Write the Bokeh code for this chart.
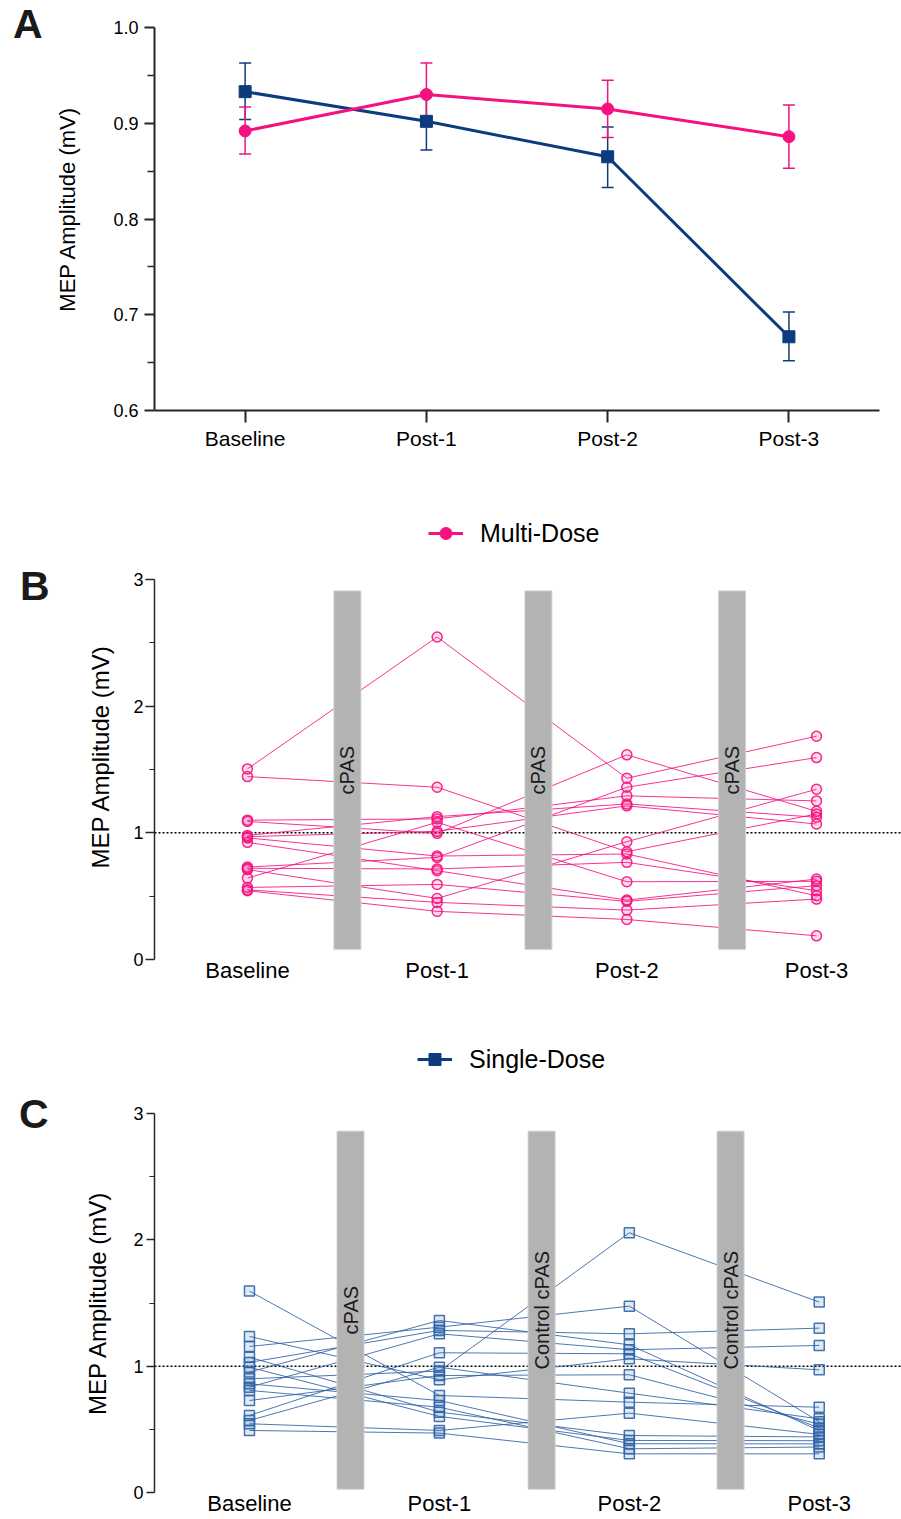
import numpy as np
from bokeh.plotting import figure
from bokeh.models import (ColumnDataSource, FixedTicker, PrintfTickFormatter, Span,
                          Legend, LegendItem, Whisker, TeeHead, LinearAxis,
                          CustomJSTickFormatter)
from bokeh.layouts import column
from bokeh.embed import file_html
from bokeh.resources import INLINE
from bokeh.core.properties import value

# ---------------- data ----------------
timepoints = ["Baseline", "Post-1", "Post-2", "Post-3"]

# Panel A: group means with error bounds (mV)
multi_mean = [0.892, 0.930, 0.915, 0.886]
multi_lower = [0.868, 0.898, 0.885, 0.853]
multi_upper = [0.917, 0.963, 0.945, 0.919]
single_mean = [0.933, 0.902, 0.865, 0.677]
single_lower = [0.904, 0.872, 0.833, 0.652]
single_upper = [0.963, 0.932, 0.896, 0.703]

# Panel B: individual subjects, Multi-Dose (index = subject)
multi_baseline = [1.505, 1.444, 1.100, 1.090, 0.980, 0.970, 0.960, 0.925, 0.730, 0.720, 0.710, 0.643, 0.569, 0.550, 0.543]
multi_post1 = [2.546, 1.360, 1.110, 0.996, 1.128, 1.012, 0.817, 0.701, 0.806, 0.715, 0.482, 1.083, 0.593, 0.451, 0.380]
multi_post2 = [1.431, 0.851, 1.292, 1.616, 1.228, 1.213, 0.833, 0.469, 1.360, 0.767, 0.930, 0.614, 0.459, 0.390, 0.316]
multi_post3 = [1.763, 1.149, 1.252, 1.170, 1.123, 1.070, 0.503, 0.635, 1.594, 0.543, 1.344, 0.617, 0.583, 0.477, 0.187]

# Panel C: individual subjects, Single-Dose
single_baseline = [1.594, 1.235, 1.156, 1.071, 1.030, 0.992, 0.953, 0.900, 0.860, 0.834, 0.808, 0.728, 0.610, 0.570, 0.544, 0.491]
single_post1 = [0.768, 0.892, 1.309, 0.636, 1.283, 0.602, 1.362, 0.961, 0.728, 1.256, 0.675, 0.926, 1.106, 0.992, 0.491, 0.470]
single_post2 = [0.715, 1.058, 1.475, 0.451, 1.256, 0.412, 1.169, 2.056, 0.386, 1.130, 0.346, 0.932, 1.098, 0.786, 0.628, 0.306]
single_post3 = [0.675, 0.971, 0.560, 0.440, 1.301, 0.410, 0.490, 1.507, 0.385, 1.164, 0.360, 0.540, 0.510, 0.583, 0.460, 0.306]

# Intervention sessions between time points
multi_sessions = ["cPAS", "cPAS", "cPAS"]
single_sessions = ["cPAS", "Control cPAS", "Control cPAS"]
multi_session_x = [0.527, 1.534, 2.555]
single_session_x = [0.532, 1.538, 2.533]

# ---------------- style ----------------
FONT = "Liberation Sans"
PINK = "#f5117f"
NAVY = "#0c3c7d"
BLUE = "#2d5fa3"
AXIS = "#262626"
GRAY = "#b3b3b3"

x_idx = list(range(len(timepoints)))
label_map = {i: t for i, t in enumerate(timepoints)}


def base_style(p):
    p.outline_line_color = None
    p.xgrid.visible = False
    p.ygrid.visible = False
    p.background_fill_color = "white"
    p.border_fill_color = "white"
    for ax in (p.xaxis[0], p.yaxis[0]):
        ax.axis_label_text_font = FONT
        ax.axis_label_text_font_style = "normal"
        ax.axis_label_text_color = "black"
        ax.major_label_text_font = FONT
        ax.major_label_text_color = "black"
        ax.axis_line_color = AXIS
        ax.major_tick_line_color = AXIS
        ax.minor_tick_line_color = AXIS
        ax.major_tick_in = 0
        ax.minor_tick_in = 0


def add_letter(p, letter, yval, standoff):
    # panel letter drawn as the single tick label of an outer, line-less axis
    ax = LinearAxis(ticker=FixedTicker(ticks=[yval], minor_ticks=[]),
                    formatter=CustomJSTickFormatter(code="return '%s';" % letter),
                    axis_line_color=None, major_tick_line_color=None,
                    minor_tick_line_color=None, major_tick_out=0, major_tick_in=0,
                    major_label_text_font=FONT, major_label_text_font_size="41px",
                    major_label_text_font_style="bold", major_label_text_color="#1a1a1a",
                    major_label_standoff=standoff)
    p.add_layout(ax, "left")


def legend_strip(height, label, color, marker, means, legend_x, legend_bottom):
    # a thin strip carrying the series key; its carrier glyphs sit outside the visible range
    q = figure(width=901, height=height, x_range=(10, 11), y_range=(10, 11),
               x_axis_type=None, y_axis_type=None, output_backend="svg",
               toolbar_location=None, min_border=0, min_border_left=154,
               min_border_right=0, min_border_top=0, min_border_bottom=0)
    q.outline_line_color = None
    q.xgrid.visible = False
    q.ygrid.visible = False
    lg_line = q.line(x_idx, means, color=color, line_width=3)
    lg_mark = q.scatter(x_idx, means, marker=marker, size=13, color=color)
    leg = Legend(items=[LegendItem(label=label, renderers=[lg_line, lg_mark])],
                 location=(legend_x, legend_bottom), glyph_width=35, glyph_height=30,
                 label_height=30, label_standoff=17,
                 label_text_font=FONT, label_text_font_size="25px", label_text_color="black",
                 padding=0, margin=0, border_line_color=None, background_fill_alpha=0)
    q.add_layout(leg)
    return q


# ---------------- Panel A ----------------
pA = figure(width=901, height=470, x_range=(-0.5, 3.621), y_range=(0.6, 1.0209),
            output_backend="svg", toolbar_location=None, min_border=0,
            min_border_left=154, min_border_right=0, min_border_top=7, min_border_bottom=60)
base_style(pA)
pA.yaxis.ticker = FixedTicker(ticks=[0.6, 0.7, 0.8, 0.9, 1.0], minor_ticks=[0.65, 0.75, 0.85, 0.95])
pA.yaxis.bounds = (0.6, 1.0)
pA.yaxis.formatter = PrintfTickFormatter(format="%.1f")
pA.yaxis.axis_label = "MEP Amplitude (mV)"
pA.yaxis.axis_label_text_font_size = "22px"
pA.yaxis.axis_label_standoff = 30
pA.yaxis.major_label_text_font_size = "18px"
pA.yaxis.major_label_standoff = 6
pA.yaxis.major_tick_out = 10
pA.yaxis.minor_tick_out = 7
pA.yaxis.axis_line_width = 2
pA.yaxis.major_tick_line_width = 2
pA.yaxis.minor_tick_line_width = 1.5
pA.xaxis.ticker = FixedTicker(ticks=x_idx, minor_ticks=[])
pA.xaxis.bounds = (-0.5, 3.5)
pA.xaxis.major_label_overrides = label_map
pA.xaxis.major_label_text_font_size = "21px"
pA.xaxis.major_label_standoff = 4
pA.xaxis.major_tick_out = 12
pA.xaxis.axis_line_width = 2
pA.xaxis.major_tick_line_width = 2

src_single = ColumnDataSource(dict(x=x_idx, y=single_mean, lo=single_lower, hi=single_upper))
src_multi = ColumnDataSource(dict(x=x_idx, y=multi_mean, lo=multi_lower, hi=multi_upper))

for src, col in ((src_single, NAVY), (src_multi, PINK)):
    w = Whisker(source=src, base="x", upper="hi", lower="lo", line_color=col, line_width=1.5,
                upper_head=TeeHead(size=12, line_color=col, line_width=1.5),
                lower_head=TeeHead(size=12, line_color=col, line_width=1.5), level="underlay")
    pA.add_layout(w)

pA.line("x", "y", source=src_single, color=NAVY, line_width=3)
pA.scatter("x", "y", source=src_single, marker="square", size=12, color=NAVY)
pA.line("x", "y", source=src_multi, color=PINK, line_width=3)
pA.scatter("x", "y", source=src_multi, marker="circle", size=12, color=PINK)

add_letter(pA, "A", 1.0042, 10)


# ---------------- Panels B & C ----------------
def subject_panel(height, border_top, border_bottom, x_start, x_end, y_top, bar_bottom, bar_top,
                  cols, sessions, session_x, color, line_color, marker, letter, letter_y,
                  letter_standoff, ylab_standoff, tick_out, tick_standoff):
    p = figure(width=901, height=height, x_range=(x_start, x_end), y_range=(0, y_top),
               output_backend="svg", toolbar_location=None, min_border=0,
               min_border_left=154, min_border_right=0,
               min_border_top=border_top, min_border_bottom=border_bottom)
    base_style(p)
    p.yaxis.ticker = FixedTicker(ticks=[0, 1, 2, 3], minor_ticks=[0.5, 1.5, 2.5])
    p.yaxis.bounds = (0, 3)
    p.yaxis.formatter = PrintfTickFormatter(format="%d")
    p.yaxis.axis_label = "MEP Amplitude (mV)"
    p.yaxis.axis_label_text_font_size = "24px"
    p.yaxis.axis_label_standoff = ylab_standoff
    p.yaxis.major_label_text_font_size = "18px"
    p.yaxis.major_label_standoff = tick_standoff
    p.yaxis.major_tick_out = tick_out
    p.yaxis.minor_tick_out = 5
    p.yaxis.axis_line_width = 1.5
    p.yaxis.major_tick_line_width = 1.5
    p.yaxis.minor_tick_line_width = 1.2
    p.xaxis.ticker = FixedTicker(ticks=x_idx, minor_ticks=[])
    p.xaxis.major_label_overrides = label_map
    p.xaxis.major_label_text_font_size = "22px"
    p.xaxis.major_label_standoff = -2
    p.xaxis.major_tick_out = 0
    p.xaxis.axis_line_color = None
    p.xaxis.major_tick_line_color = None

    p.add_layout(Span(location=1, dimension="width", line_color="black", line_width=1.5,
                      line_dash="2 2", level="underlay"))

    n = len(cols[0])
    xs = [x_idx for _ in range(n)]
    ys = [[c[i] for c in cols] for i in range(n)]
    p.multi_line(xs, ys, line_color=line_color, line_width=1, line_alpha=0.85)

    bw = 0.142
    bar_src = ColumnDataSource(dict(
        left=[s - bw / 2 for s in session_x], right=[s + bw / 2 for s in session_x],
        bottom=[bar_bottom] * len(session_x), top=[bar_top] * len(session_x),
        x=session_x, ymid=[(bar_bottom + bar_top) / 2] * len(session_x), txt=sessions))
    p.quad(left="left", right="right", bottom="bottom", top="top", source=bar_src,
           fill_color=GRAY, line_color="#cfcfcf", line_width=1)
    p.text(x="x", y="ymid", text="txt", source=bar_src, angle=np.pi / 2,
           text_align="center", text_baseline="middle", text_font=value(FONT),
           text_font_size="20px", text_color="#1a1a1a")

    px = [x for x in x_idx for _ in range(n)]
    py = [c[i] for c in cols for i in range(n)]
    p.scatter(px, py, marker=marker, size=10, line_color=color, line_width=1.5,
              fill_color=color, fill_alpha=0.15, line_alpha=0.9)

    add_letter(p, letter, letter_y, letter_standoff)
    return p


legB = legend_strip(78, "Multi-Dose", PINK, "circle", multi_mean, 274, 0)
pB = subject_panel(452, 5, 41, -0.49, 3.448, 3.2055, 0.08, 2.91,
                   [multi_baseline, multi_post1, multi_post2, multi_post3],
                   multi_sessions, multi_session_x, PINK, PINK, "circle",
                   "B", 2.945, 35, 16, 9, 2)

legC = legend_strip(85, "Single-Dose", NAVY, "square", single_mean, 263, 11)
pC = subject_panel(434, 28, 27, -0.5, 3.433, 3.0, 0.026, 2.86,
                   [single_baseline, single_post1, single_post2, single_post3],
                   single_sessions, single_session_x, "#2f64a8", BLUE, "square",
                   "C", 3.0, 33, 19, 8, 3)

layout = column(pA, legB, pB, legC, pC, spacing=0)
open("out.html", "w").write(file_html(layout, INLINE))
